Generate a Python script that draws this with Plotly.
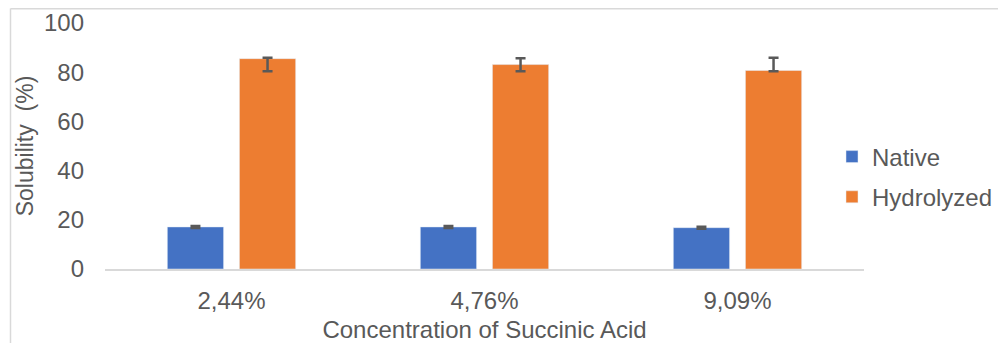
import plotly.graph_objects as go

# ---- data ----
categories = ["2,44%", "4,76%", "9,09%"]
native = [17.1, 17.1, 16.8]
native_err = [0.4, 0.4, 0.4]
hydrolyzed = [85.5, 83.1, 80.7]
hydro_err_plus = [0.4, 2.6, 5.2]
hydro_err_minus = [5.1, 2.7, 0.3]
y_ticks = [0, 20, 40, 60, 80, 100]

# ---- layout constants (page has an 8px body margin) ----
O = 8
W, H = 1006 - O, 343 - O
L, T = 105 - O, 23 - O
R = W - (864 - O)
B = H - (269 - O)
FONT = "Liberation Sans, Arial, sans-serif"
TXT = "#595959"
pw, ph = W - L - R, H - T - B


def px_x(x):  # screen px -> paper
    return (x - O - L) / pw


def px_y(y):
    return (H - B - (y - O)) / ph


fig = go.Figure()
fig.add_trace(go.Bar(
    name="Native", x=categories, y=native, marker_color="#4472C4",
    legendgroup="a",
    error_y=dict(type="data", array=native_err, color=TXT, thickness=2.5, width=5),
))
fig.add_trace(go.Bar(
    name="Hydrolyzed", x=categories, y=hydrolyzed, marker_color="#ED7D31",
    legendgroup="b",
    error_y=dict(type="data", symmetric=False, array=hydro_err_plus,
                 arrayminus=hydro_err_minus, color=TXT, thickness=2.5, width=5),
))

fig.update_layout(
    width=W, height=H,
    margin=dict(l=L, r=R, t=T, b=B, autoexpand=False),
    paper_bgcolor="white", plot_bgcolor="white",
    font=dict(family=FONT, color=TXT, size=24),
    barmode="group", bargap=0.43, bargroupgap=0.22,
    showlegend=True,
    legend=dict(x=px_x(832), xanchor="left", y=px_y(177), yanchor="middle",
                font=dict(size=24, color=TXT), tracegroupgap=6,
                traceorder="grouped", bgcolor="rgba(0,0,0,0)"),
    xaxis=dict(showline=True, linecolor="#D9D9D9", linewidth=1.5,
               showgrid=False, ticks="", ticklabelstandoff=9,
               tickfont=dict(size=24, color=TXT),
               title=dict(text="Concentration of Succinic Acid",
                          font=dict(size=24, color=TXT), standoff=10)),
    yaxis=dict(range=[0, 100], tickvals=y_ticks, showgrid=False,
               zeroline=False, showline=False, ticks="", ticklabelstandoff=20,
               tickfont=dict(size=24, color=TXT),
               title=dict(text="Solubility  (%)",
                          font=dict(size=23, color=TXT), standoff=3)),
    shapes=[
        dict(type="line", xref="paper", yref="paper",
             x0=px_x(10.5), x1=px_x(10.5), y0=px_y(8.5), y1=px_y(345),
             line=dict(color="#D9D9D9", width=1.5)),
        dict(type="line", xref="paper", yref="paper",
             x0=px_x(10.5), x1=px_x(1008), y0=px_y(8.7), y1=px_y(8.7),
             line=dict(color="#D9D9D9", width=1.5)),
    ],
)

fig.write_html("out.html")
